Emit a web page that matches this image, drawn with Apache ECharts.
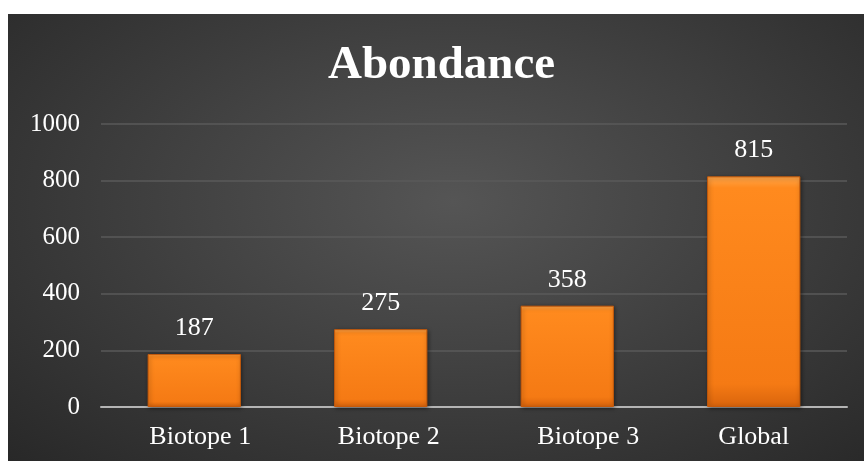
<!DOCTYPE html>
<html>
<head>
<meta charset="utf-8">
<script src="https://cdn.jsdelivr.net/npm/echarts@6/dist/echarts.min.js"></script>
<style>
  html, body { margin: 0; padding: 0; background: #fff; }
  #chart {
    position: absolute;
    left: 8px;
    top: 14px;
    width: 856px;
    height: 447px;
    background: radial-gradient(ellipse at 52% 42%, #555555 0%, #414141 45%, #282828 100%);
  }
</style>
</head>
<body>
<div id="chart"></div>
<script>
// données
const categories = ['Biotope 1', 'Biotope 2', 'Biotope 3', 'Global']
const values = [187, 275, 358, 815]
const yTicks = [0, 200, 400, 600, 800, 1000]

const font = '"Liberation Serif", "Times New Roman", serif'

// décalage horizontal des étiquettes (comme dans l'original)
const labelPad = [12, 16, 42, 0]

const chart = echarts.init(document.getElementById('chart'))

const rich = {}
labelPad.forEach((p, i) => {
  rich['c' + i] = {
    color: '#ffffff',
    fontFamily: font,
    fontSize: 26,
    padding: [0, 0, 0, p],
  }
})

const option = {
  animation: false,
  title: {
    text: 'Abondance',
    left: 315,
    top: 23,
    textStyle: {
      color: '#ffffff',
      fontFamily: font,
      fontSize: 47,
      fontWeight: 'bold',
    },
  },
  grid: {
    left: 93,
    right: 17,
    top: 110,
    bottom: 54,
  },
  xAxis: {
    type: 'category',
    data: categories,
    axisTick: { show: false },
    axisLine: {
      lineStyle: { color: '#b4b4b4', width: 2 },
    },
    axisLabel: {
      interval: 0,
      hideOverlap: false,
      color: '#ffffff',
      fontFamily: font,
      fontSize: 26,
      margin: 17,
      formatter: (v, i) => `{c${i}|${v}}`,
      rich,
    },
  },
  yAxis: {
    type: 'value',
    min: yTicks[0],
    max: yTicks[yTicks.length - 1],
    interval: 200,
    axisLine: { show: false },
    axisTick: { show: false },
    axisLabel: {
      color: '#ffffff',
      fontFamily: font,
      fontSize: 25,
      margin: 21,
      formatter: v => String(v),
    },
    splitLine: {
      lineStyle: { color: '#5a5a5a', width: 1.5 },
    },
  },
  series: [
    {
      name: 'Abondance',
      type: 'bar',
      data: values,
      barWidth: '50%',
      itemStyle: {
        color: new echarts.graphic.LinearGradient(0, 0, 0, 1, [
          { offset: 0, color: '#ffa64a' },
          { offset: 0.05, color: '#ff8a1e' },
          { offset: 0.9, color: '#f57a14' },
          { offset: 1, color: '#d9640c' },
        ]),
        borderColor: '#c85a0a',
        borderWidth: 1,
        shadowColor: 'rgba(0, 0, 0, 0.45)',
        shadowBlur: 4,
        shadowOffsetX: 1,
        shadowOffsetY: 1,
      },
      label: {
        show: true,
        position: 'top',
        distance: 13,
        color: '#ffffff',
        fontFamily: font,
        fontSize: 26,
      },
    },
  ],
}

chart.setOption(option)
</script>
</body>
</html>
